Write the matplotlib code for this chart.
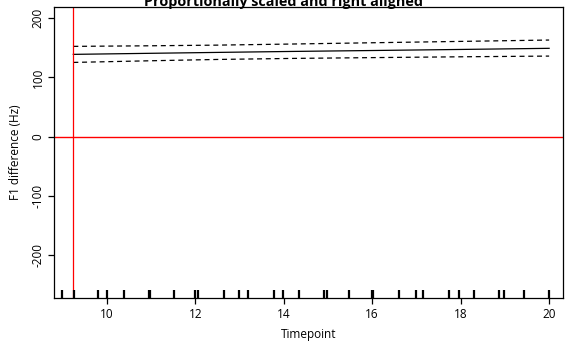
import matplotlib
matplotlib.use('Agg')
import matplotlib.pyplot as plt
import numpy as np

plt.rcParams['font.family'] = ['Open Sans', 'DejaVu Sans']

# fitted difference curve and its confidence band
t_fit = [9.245, 11.0, 12.5, 14.14, 16.0, 18.0, 20.0]
fit = [139.0, 140.8, 142.3, 143.9, 145.5, 147.3, 149.2]
upper = [152.5, 153.5, 154.6, 156.4, 158.6, 160.9, 163.2]
lower = [125.4, 128.2, 130.4, 132.1, 133.5, 134.9, 136.1]

# observed timepoints (rug)
rug_t = [9.0, 9.25, 9.81, 10.0, 10.385, 10.96, 10.98, 11.52, 11.99, 12.07,
         12.65, 13.0, 13.2, 13.77, 13.99, 14.34, 14.9, 14.99, 15.47, 15.99,
         16.03, 16.6, 16.98, 17.16, 17.74, 17.97, 18.3, 18.86, 18.98, 19.43, 20.0]

vline_x = 9.245
xticks = [10, 12, 14, 16, 18, 20]
yticks = [-200, -100, 0, 100, 200]

fig = plt.figure(figsize=(5.68, 3.43), dpi=100)
ax = fig.add_axes([0.0956, 0.1303, 0.8961, 0.8493])

ax.plot(t_fit, fit, color='black', lw=0.9)
ax.plot(t_fit, upper, color='black', lw=0.9, linestyle=(0, (4, 3)))
ax.plot(t_fit, lower, color='black', lw=0.9, linestyle=(0, (4, 3)))

ax.axhline(0, color='red', lw=1.0)
ax.axvline(vline_x, color='red', lw=0.9)

ax.vlines(rug_t, 0, 0.03, transform=ax.get_xaxis_transform(), color='black', lw=1.6)

ax.set_xlim(8.815, 20.32)
ax.set_ylim(-273, 219)
ax.set_xticks(xticks)
ax.set_yticks(yticks)
ax.set_yticklabels([str(v) for v in yticks], rotation=90, va='center')
ax.tick_params(axis='both', direction='out', length=4, width=0.9, labelsize=8.5, pad=3)
for s in ax.spines.values():
    s.set_linewidth(0.9)

ax.set_xlabel('Timepoint', fontsize=8.5, labelpad=5)
ax.set_ylabel('F1 difference (Hz)', fontsize=8.5, labelpad=7)

# title is centred on the whole figure and clipped at the top, as in the original
fig.text(0.5, 1 - 6 / 343, 'Proportionally scaled and right aligned',
         ha='center', va='baseline', fontsize=10.4, fontweight='bold')

fig.savefig('out.png', dpi=100)
